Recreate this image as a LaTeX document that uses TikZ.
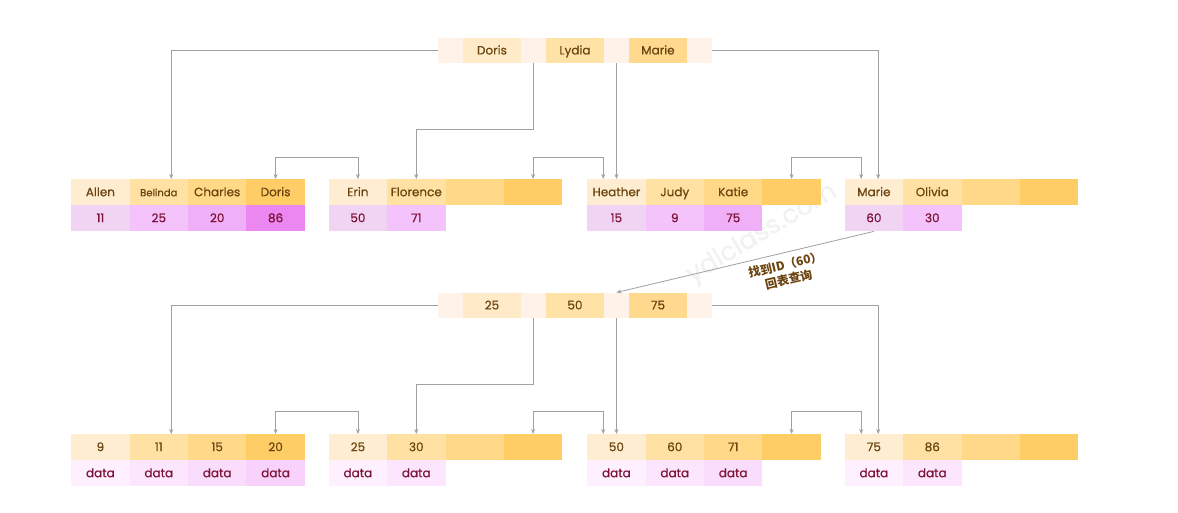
\documentclass[tikz,border=0pt]{standalone}
\usepackage{fontspec}
\setmainfont{Poppins}[FakeBold=0.6]
\newfontfamily\cjk{Noto Sans CJK SC}
\usetikzlibrary{arrows.meta,calc}
\definecolor{ptr}{HTML}{FFF2E8}
\definecolor{ka}{HTML}{FFEDD2}
\definecolor{kb}{HTML}{FFE1A4}
\definecolor{kc}{HTML}{FFD888}
\definecolor{kd}{HTML}{FFCD66}
\definecolor{ra}{HTML}{FFEBC8}
\definecolor{rb}{HTML}{FFE2A6}
\definecolor{rc}{HTML}{FFD98D}
\definecolor{va}{HTML}{F1D4F4}
\definecolor{vb}{HTML}{F5C3FB}
\definecolor{vc}{HTML}{F0B0F7}
\definecolor{vd}{HTML}{EC86F0}
\definecolor{da}{HTML}{FEF0FE}
\definecolor{db}{HTML}{FCE6FD}
\definecolor{dc}{HTML}{FADDFC}
\definecolor{dd}{HTML}{F8D2FB}
\definecolor{brown}{HTML}{6B4410}
\definecolor{wine}{HTML}{7D1236}
\definecolor{conn}{HTML}{A0A0A0}
\newcommand\cellnode[5]{\node[cell,fill=#4] (#1) at (#2,#3) {#5};}
\newcommand\ptrnode[3]{\node[pcell] (#1) at (#2,#3) {};}
\newcommand\rootkey[5]{\node[rcell,fill=#4] (#1) at (#2,#3) {#5};}
\begin{document}
\begin{tikzpicture}[x=1pt,y=-1pt,
  cell/.style={rectangle,inner sep=0pt,anchor=north west,minimum width=58.4pt,minimum height=26pt,
    text height=9pt,text depth=1pt,font=\fontsize{12}{14}\selectfont,text=brown},
  vcell/.style={cell,text=wine},
  pcell/.style={rectangle,inner sep=0pt,anchor=north west,minimum width=24.5pt,minimum height=25.5pt,fill=ptr},
  rcell/.style={cell,minimum width=58.5pt,minimum height=25.5pt},
  link/.style={draw=conn,line width=0.8pt,{Stealth[length=5pt,width=4pt]}-{Stealth[length=5pt,width=4pt]}},
  arr/.style={draw=conn,line width=0.8pt,-{Stealth[length=5pt,width=4pt]}}
]
\useasboundingbox (0,0) rectangle (1178,513);
\fill[white] (0,0) rectangle (1178,513);
% watermark
\node[rotate=31,text=black!5,font=\fontsize{26}{28}\selectfont] (wm) at (762,234) {ydlclass.com};

% ===== upper root =====
\ptrnode{r1p1}{438}{37.5}
\rootkey{r1k1}{462.5}{37.5}{ra}{Doris}
\ptrnode{r1p2}{521}{37.5}
\rootkey{r1k2}{545.5}{37.5}{rb}{Lydia}
\ptrnode{r1p3}{604}{37.5}
\rootkey{r1k3}{628.5}{37.5}{rc}{Marie}
\ptrnode{r1p4}{687}{37.5}

% ===== upper leaves =====
\cellnode{l1a}{71}{179}{ka}{Allen}
\cellnode{l1b}{129.4}{179}{kb}{\fontsize{10}{12}\selectfont Belinda}
\cellnode{l1c}{187.8}{179}{kc}{Charles}
\cellnode{l1d}{246.2}{179}{kd}{Doris}
\node[vcell,fill=va] (l1va) at (71,205) {11};
\node[vcell,fill=vb] (l1vb) at (129.4,205) {25};
\node[vcell,fill=vc] (l1vc) at (187.8,205) {20};
\node[vcell,fill=vd] (l1vd) at (246.2,205) {86};

\cellnode{l2a}{328.5}{179}{ka}{Erin}
\cellnode{l2b}{386.9}{179}{kb}{Florence}
\cellnode{l2c}{445.3}{179}{kc}{}
\cellnode{l2d}{503.7}{179}{kd}{}
\node[vcell,fill=va] (l2va) at (328.5,205) {50};
\node[vcell,fill=vb] (l2vb) at (386.9,205) {71};

\cellnode{l3a}{587}{179}{ka}{Heather}
\cellnode{l3b}{645.4}{179}{kb}{Judy}
\cellnode{l3c}{703.8}{179}{kc}{Katie}
\cellnode{l3d}{762.2}{179}{kd}{}
\node[vcell,fill=va] (l3va) at (587,205) {15};
\node[vcell,fill=vb] (l3vb) at (645.4,205) {9};
\node[vcell,fill=vc] (l3vc) at (703.8,205) {75};

\cellnode{l4a}{844.5}{179}{ka}{Marie}
\cellnode{l4b}{902.9}{179}{kb}{Olivia}
\cellnode{l4c}{961.3}{179}{kc}{}
\cellnode{l4d}{1019.7}{179}{kd}{}
\node[vcell,fill=va] (l4va) at (844.5,205) {60};
\node[vcell,fill=vb] (l4vb) at (902.9,205) {30};

% upper connectors
\draw[arr] (r1p1.west) -| ([xshift=12.4pt]l1b.north);
\draw[arr] (r1p2.south) -- ++(0,66) -| (l2b.north);
\draw[arr] (r1p3.south) -- (r1p3.south |- l3a.north);
\draw[arr] (r1p4.east) -| ([xshift=4.3pt]l4a.north);
\draw[link] (l1d.north) -- ++(0,-22) -| (l2a.north);
\draw[link] (l2d.north) -- ++(0,-22) -| ([xshift=-13.2pt]l3a.north);
\draw[link] (l3d.north) -- ++(0,-22) -| ([xshift=-12.7pt]l4a.north);

% ===== lower root =====
\ptrnode{r2p1}{438}{292.5}
\rootkey{r2k1}{462.5}{292.5}{ra}{25}
\ptrnode{r2p2}{521}{292.5}
\rootkey{r2k2}{545.5}{292.5}{rb}{50}
\ptrnode{r2p3}{604}{292.5}
\rootkey{r2k3}{628.5}{292.5}{rc}{75}
\ptrnode{r2p4}{687}{292.5}

% ===== lower leaves =====
\cellnode{m1a}{71}{434}{ka}{9}
\cellnode{m1b}{129.4}{434}{kb}{11}
\cellnode{m1c}{187.8}{434}{kc}{15}
\cellnode{m1d}{246.2}{434}{kd}{20}
\node[vcell,fill=da] (m1va) at (71,460) {data};
\node[vcell,fill=db] (m1vb) at (129.4,460) {data};
\node[vcell,fill=dc] (m1vc) at (187.8,460) {data};
\node[vcell,fill=dd] (m1vd) at (246.2,460) {data};

\cellnode{m2a}{328.5}{434}{ka}{25}
\cellnode{m2b}{386.9}{434}{kb}{30}
\cellnode{m2c}{445.3}{434}{kc}{}
\cellnode{m2d}{503.7}{434}{kd}{}
\node[vcell,fill=da] (m2va) at (328.5,460) {data};
\node[vcell,fill=db] (m2vb) at (386.9,460) {data};

\cellnode{m3a}{587}{434}{ka}{50}
\cellnode{m3b}{645.4}{434}{kb}{60}
\cellnode{m3c}{703.8}{434}{kc}{71}
\cellnode{m3d}{762.2}{434}{kd}{}
\node[vcell,fill=da] (m3va) at (587,460) {data};
\node[vcell,fill=db] (m3vb) at (645.4,460) {data};
\node[vcell,fill=dc] (m3vc) at (703.8,460) {data};

\cellnode{m4a}{844.5}{434}{ka}{75}
\cellnode{m4b}{902.9}{434}{kb}{86}
\cellnode{m4c}{961.3}{434}{kc}{}
\cellnode{m4d}{1019.7}{434}{kd}{}
\node[vcell,fill=da] (m4va) at (844.5,460) {data};
\node[vcell,fill=db] (m4vb) at (902.9,460) {data};

% lower connectors
\draw[arr] (r2p1.west) -| ([xshift=12.4pt]m1b.north);
\draw[arr] (r2p2.south) -- ++(0,66) -| (m2b.north);
\draw[arr] (r2p3.south) -- (r2p3.south |- m3a.north);
\draw[arr] (r2p4.east) -| ([xshift=4.3pt]m4a.north);
\draw[link] (m1d.north) -- ++(0,-23) -| (m2a.north);
\draw[link] (m2d.north) -- ++(0,-23) -| ([xshift=-13.2pt]m3a.north);
\draw[link] (m3d.north) -- ++(0,-23) -| ([xshift=-12.7pt]m4a.north);

% lookup arrow
\draw[arr] (l4va.south) -- (r2p3.north);
\node[rotate=13.3,align=center,text=brown,font=\cjk\bfseries\fontsize{12}{15}\selectfont] (lbl) at (787,272) {找到ID（60）\\回表查询};
\end{tikzpicture}
\end{document}
